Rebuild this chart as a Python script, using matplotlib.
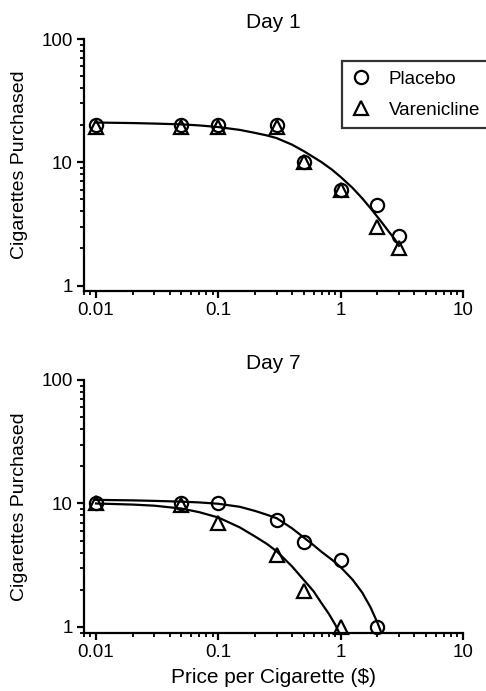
import numpy as np
import matplotlib
matplotlib.use('Agg')
import matplotlib.pyplot as plt
from matplotlib.ticker import FixedLocator, LogLocator, NullFormatter
from matplotlib.lines import Line2D

plt.rcParams['font.family'] = ['Liberation Sans', 'DejaVu Sans']

# prices ($ per cigarette)
price = [0.01, 0.05, 0.1, 0.3, 0.5, 1, 2, 3]

# Day 1 observed
d1_placebo = [20, 20, 20, 20, 10, 6, 4.5, 2.5]
d1_varen = [19.5, 19.5, 19.5, 19.5, 10, 6, 3, 2]
# Day 1 fitted curve
d1_fit_x = [0.01, 0.02, 0.03, 0.05, 0.07, 0.1, 0.15, 0.2, 0.25, 0.3, 0.4, 0.5,
            0.6, 0.7, 0.85, 1.0, 1.25, 1.5, 1.75, 2.0, 2.25, 2.5, 2.75, 3.0]
d1_fit_y = [21.0, 20.8, 20.6, 20.3, 19.9, 19.3, 18.3, 17.3, 16.5, 15.7, 13.9, 12.3,
            11.0, 10.0, 8.7, 7.6, 6.2, 5.1, 4.25, 3.6, 3.1, 2.7, 2.4, 2.1]

# Day 7 observed
d7_price = [0.01, 0.05, 0.1, 0.3, 0.5, 1, 2]
d7_placebo = [10, 10, 10, 7.4, 4.9, 3.5, 1.0]
d7_varen_price = [0.01, 0.05, 0.1, 0.3, 0.5, 1]
d7_varen = [10, 9.7, 6.9, 3.85, 1.97, 1.0]
# Day 7 fitted curves
d7_fit_p_x = [0.01, 0.02, 0.03, 0.05, 0.07, 0.1, 0.15, 0.2, 0.25, 0.3, 0.4, 0.5,
              0.6, 0.7, 0.85, 1.0, 1.25, 1.5, 1.75, 2.0, 2.2]
d7_fit_p_y = [10.7, 10.6, 10.5, 10.35, 10.2, 9.95, 9.4, 8.7, 8.1, 7.6, 6.3, 5.3,
              4.6, 4.05, 3.5, 3.05, 2.42, 1.9, 1.45, 1.08, 0.85]
d7_fit_v_x = [0.01, 0.02, 0.03, 0.05, 0.07, 0.1, 0.15, 0.2, 0.25, 0.3, 0.4, 0.5,
              0.6, 0.7, 0.8, 0.9, 1.0]
d7_fit_v_y = [10.0, 9.8, 9.6, 9.1, 8.5, 7.7, 6.4, 5.4, 4.7, 4.1, 3.1, 2.4,
              1.95, 1.55, 1.28, 1.05, 0.85]

xticks = [0.01, 0.1, 1, 10]
xticklabels = ['0.01', '0.1', '1', '10']
yticks = [1, 10, 100]
yticklabels = ['1', '10', '100']

W, H = 486, 691
fig = plt.figure(figsize=(W / 100, H / 100), dpi=100)

def style_axes(ax, ybottom):
    ax.set_xscale('log')
    ax.set_yscale('log')
    ax.set_xlim(0.00798, 10)
    ax.set_ylim(ybottom, 100)
    for s in ['top', 'right']:
        ax.spines[s].set_visible(False)
    for s in ['left', 'bottom']:
        ax.spines[s].set_linewidth(1.6)
    ax.xaxis.set_major_locator(FixedLocator(xticks))
    ax.set_xticklabels(xticklabels)
    ax.yaxis.set_major_locator(FixedLocator(yticks))
    ax.set_yticklabels(yticklabels)
    ax.xaxis.set_minor_locator(LogLocator(base=10, subs=np.arange(2, 10), numticks=20))
    ax.yaxis.set_minor_locator(LogLocator(base=10, subs=np.arange(2, 10), numticks=20))
    ax.xaxis.set_minor_formatter(NullFormatter())
    ax.yaxis.set_minor_formatter(NullFormatter())
    ax.tick_params(which='major', direction='out', length=5, width=1.6, labelsize=13.5, pad=3)
    ax.tick_params(which='minor', direction='out', length=3, width=1.3)
    ax.set_ylabel('Cigarettes Purchased', fontsize=14, labelpad=10)

mk = dict(linestyle='none', markerfacecolor='none', markeredgecolor='black',
          markeredgewidth=1.6, markersize=9.5, clip_on=False)

# Day 1
ax1 = fig.add_axes([84 / W, 1 - 290.7 / H, (463 - 84) / W, (290.7 - 39) / H])
style_axes(ax1, 0.908)
ax1.plot(d1_fit_x, d1_fit_y, color='black', lw=1.6)
ax1.plot(price, d1_placebo, marker='o', **mk)
ax1.plot(price, d1_varen, marker='^', **mk)
ax1.set_title('Day 1', fontsize=15, pad=8)

handles = [Line2D([], [], marker='o', **mk), Line2D([], [], marker='^', **mk)]
leg = fig.legend(handles, ['Placebo', 'Varenicline'], loc='upper left',
                 bbox_to_anchor=(342 / W, 1 - 61 / H), fontsize=13.5,
                 frameon=True, fancybox=False, handlelength=1.0,
                 handletextpad=1.0, borderpad=0.5, labelspacing=0.75,
                 borderaxespad=0)
leg.get_frame().set_edgecolor('black')
leg.get_frame().set_linewidth(1.6)

# Day 7
ax2 = fig.add_axes([84 / W, 1 - 633 / H, (463 - 84) / W, (633 - 380) / H])
style_axes(ax2, 0.894)
ax2.plot(d7_fit_p_x, d7_fit_p_y, color='black', lw=1.6, clip_on=True)
ax2.plot(d7_fit_v_x, d7_fit_v_y, color='black', lw=1.6, clip_on=True)
ax2.plot(d7_price, d7_placebo, marker='o', **mk)
ax2.plot(d7_varen_price, d7_varen, marker='^', **mk)
ax2.set_title('Day 7', fontsize=15, pad=8)
ax2.set_xlabel('Price per Cigarette ($)', fontsize=15, labelpad=5)

fig.savefig('out.png', dpi=100)
plt.close(fig)
